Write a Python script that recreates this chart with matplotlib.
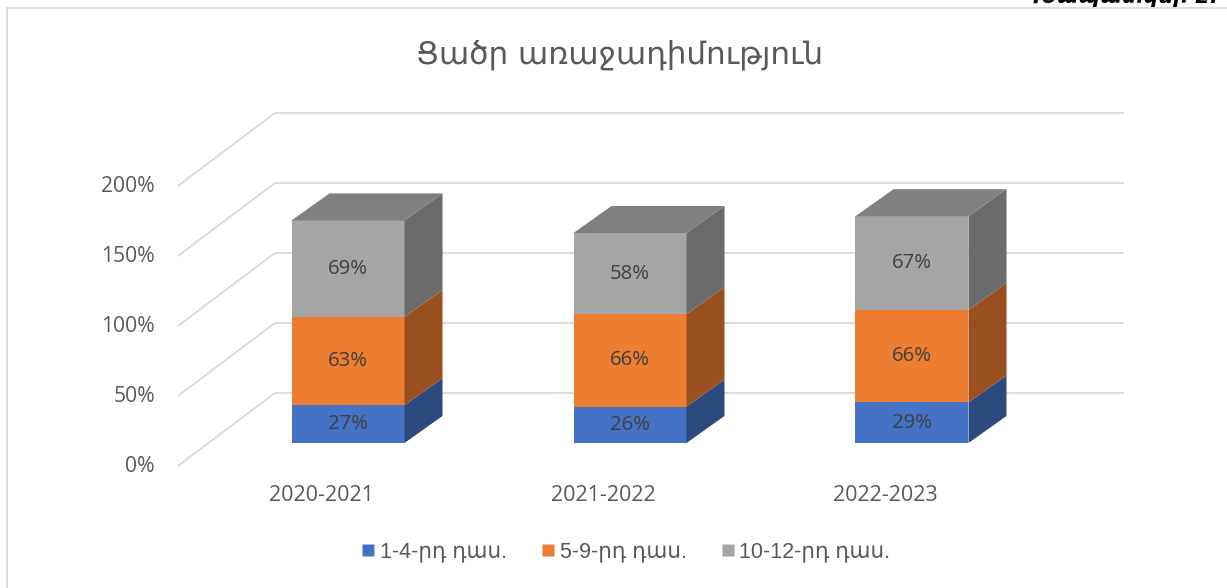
import matplotlib
matplotlib.use('Agg')
import matplotlib.pyplot as plt
from matplotlib.patches import Polygon, Rectangle
import numpy as np

plt.rcParams['font.family'] = ['Open Sans', 'DejaVu Sans']

# data
title = 'Ցածր առաջադիմություն'
categories = ['2020-2021', '2021-2022', '2022-2023']
series_names = ['1-4-րդ դաս.', '5-9-րդ դաս.', '10-12-րդ դաս.']
grade_1_4 = [27, 26, 29]
grade_5_9 = [63, 66, 66]
grade_10_12 = [69, 58, 67]
y_ticks = [0, 50, 100, 150, 200]

series = [grade_1_4, grade_5_9, grade_10_12]
front_cols = ['#4472C4', '#ED7D31', '#A5A5A5']
side_cols = ['#2C4A7E', '#9A4F1F', '#6B6B6B']
top_col = '#808080'

W, H = 1227, 588
fig = plt.figure(figsize=(W / 100, H / 100), dpi=100)
ax = fig.add_axes([0, 0, 1, 1])

# pixel layout -> data units (x: category, y: percent)
x0_px, step_px = 321, 282
y0_px, px_per = 466, 1.4
ax.set_xlim((0 - x0_px) / step_px, (W - x0_px) / step_px)
ax.set_ylim((y0_px - H) / px_per, y0_px / px_per)
ax.axis('off')

wall_dx = 97 / step_px       # depth offset of back wall
wall_dy = 73 / px_per
left_x = (178 - x0_px) / step_px
right_x = (1124 - x0_px) / step_px

# gridlines (floor-to-back-wall)
for t in y_ticks:
    ax.plot([left_x, left_x + wall_dx, right_x], [t, t + wall_dy, t + wall_dy],
            color='#d9d9d9', lw=1.3, zorder=1, solid_capstyle='butt')
    ax.text(left_x - 23 / step_px, t, f'{t}%', ha='right', va='center',
            fontsize=15.2, color='#595959')

# bars
front_d = 0.315
by_off = front_d * wall_dy
bw = 113 / step_px
sdx = 38 / step_px
sdy = 27 / px_per

for i, cat in enumerate(categories):
    xl = i - bw / 2 + 27 / step_px
    xr = xl + bw
    bottom = by_off
    for k, vals in enumerate(series):
        v = vals[i]
        top = bottom + v
        ax.add_patch(Rectangle((xl, bottom), bw, v, facecolor=front_cols[k],
                               edgecolor='none', zorder=3))
        ax.add_patch(Polygon([(xr, bottom), (xr + sdx, bottom + sdy),
                              (xr + sdx, top + sdy), (xr, top)],
                             facecolor=side_cols[k], edgecolor='none', zorder=3))
        ax.text((xl + xr) / 2, bottom + v / 2, f'{v}%', ha='center', va='center',
                fontsize=14.7, color='#404040', zorder=4)
        bottom = top
    ax.add_patch(Polygon([(xl, bottom), (xr, bottom), (xr + sdx, bottom + sdy),
                          (xl + sdx, bottom + sdy)],
                         facecolor=top_col, edgecolor='none', zorder=3))
    ax.text(i, -21, cat, ha='center', va='center', fontsize=15.5, color='#595959')

# chart frame
ax.plot([(7 - x0_px) / step_px, (7 - x0_px) / step_px, (W + 5 - x0_px) / step_px],
        [(y0_px - H - 5) / px_per, (y0_px - 8) / px_per, (y0_px - 8) / px_per],
        color='#d9d9d9', lw=1.3, zorder=1)

fig.text(620 / W, 1 - 55 / H, title, ha='center', va='center', fontsize=22.3,
         color='#595959', family=['DejaVu Sans'])

fig.text(1218 / W, 1 - 3 / H, 'Գծապատկեր 2.', ha='right', va='baseline',
         fontsize=15, fontweight='bold', fontstyle='italic', color='#000000',
         family=['DejaVu Sans'])

# legend
handles = [plt.Line2D([], [], marker='s', ls='none', markersize=8,
                      markerfacecolor=c, markeredgecolor='none') for c in front_cols]
fig.legend(handles, series_names, loc='center', bbox_to_anchor=(626 / W, 1 - 552 / H),
           ncol=3, frameon=False, handletextpad=0.25, columnspacing=1.6,
           handlelength=0.6, prop={'family': ['Liberation Sans', 'DejaVu Sans'], 'size': 15.5},
           labelcolor='#595959')

fig.savefig('out.png', dpi=100)
